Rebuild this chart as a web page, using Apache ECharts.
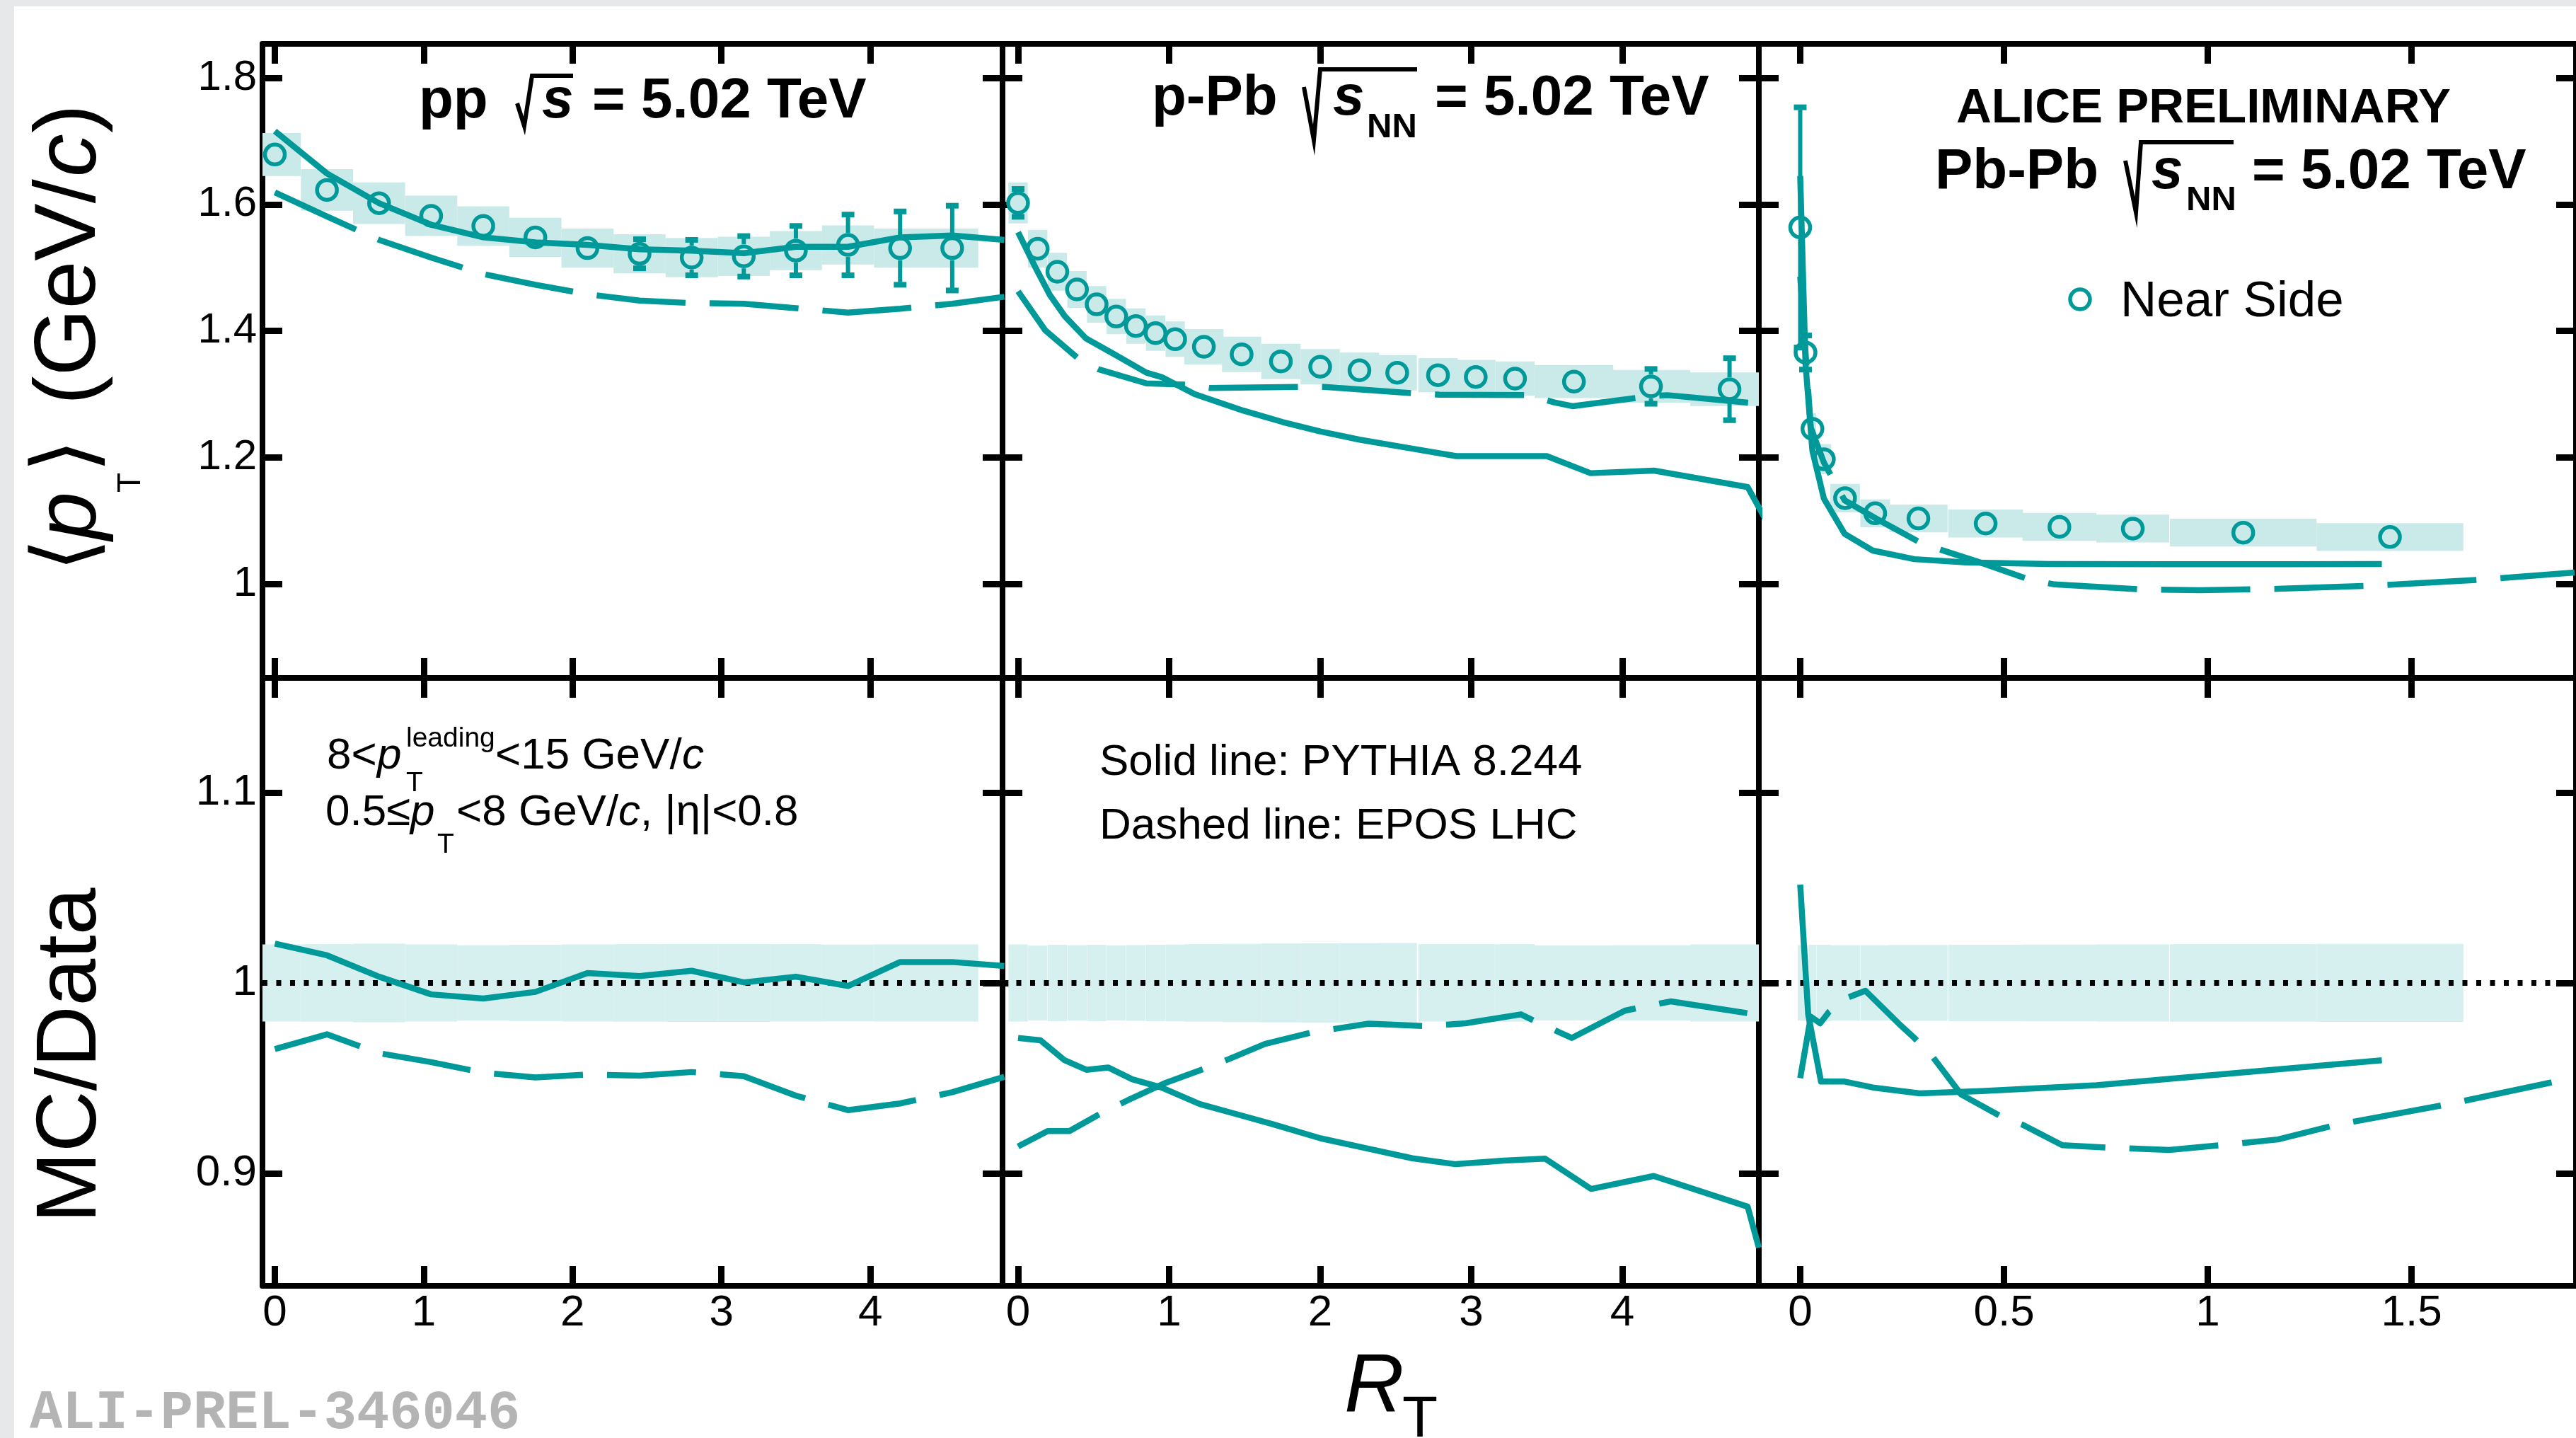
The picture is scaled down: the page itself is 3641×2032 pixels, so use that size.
<!DOCTYPE html>
<html><head><meta charset="utf-8">
<script src="https://cdn.jsdelivr.net/npm/echarts@6/dist/echarts.min.js"></script>
<style>html,body{margin:0;padding:0;background:#fff;}#c{width:3641px;height:2032px;}</style>
</head><body><div id="c"></div>
<script>
// ---------------- DATA ----------------
// pp, sqrt(s)=5.02 TeV
const ppX     = [0, 0.35, 0.7, 1.05, 1.4, 1.75, 2.1, 2.45, 2.8, 3.15, 3.5, 3.85, 4.2, 4.55];
const ppY     = [1.679, 1.623, 1.602, 1.582, 1.566, 1.548, 1.531, 1.522, 1.516, 1.518, 1.527, 1.536, 1.531, 1.531];
const ppStat  = [0.005, 0.005, 0.005, 0.006, 0.006, 0.007, 0.010, 0.023, 0.028, 0.032, 0.039, 0.048, 0.058, 0.067];
const ppSys   = [0.034, 0.033, 0.033, 0.032, 0.031, 0.031, 0.031, 0.031, 0.031, 0.031, 0.031, 0.031, 0.031, 0.031];
const ppHalfW = [0.175, 0.175, 0.175, 0.175, 0.175, 0.175, 0.175, 0.175, 0.175, 0.175, 0.175, 0.175, 0.175, 0.175];
const ppMcX   = [0, 0.35, 0.7, 1.05, 1.4, 1.75, 2.1, 2.45, 2.8, 3.15, 3.5, 3.85, 4.2, 4.55, 4.9];
const ppPythia      = [1.716, 1.649, 1.602, 1.568, 1.548, 1.540, 1.536, 1.529, 1.527, 1.523, 1.533, 1.533, 1.548, 1.551, 1.544];
const ppEpos        = [1.619, 1.581, 1.544, 1.516, 1.490, 1.473, 1.458, 1.448, 1.444, 1.443, 1.436, 1.429, 1.435, 1.443, 1.454];
const ppPythiaRatio = [1.0207, 1.0145, 1.0033, 0.994, 0.9918, 0.9953, 1.0052, 1.0036, 1.0064, 1.0003, 1.0033, 0.9984, 1.011, 1.011, 1.0089];
const ppEposRatio   = [0.9653, 0.973, 0.9631, 0.9584, 0.9528, 0.9504, 0.9519, 0.9513, 0.9532, 0.951, 0.9408, 0.9332, 0.9367, 0.9426, 0.9507];

// p-Pb, sqrt(sNN)=5.02 TeV
const pPbX     = [0, 0.13, 0.26, 0.39, 0.52, 0.65, 0.78, 0.91, 1.04, 1.23, 1.48, 1.74, 2.0, 2.26, 2.51, 2.78, 3.03, 3.29, 3.68, 4.19, 4.71];
const pPbY     = [1.6025, 1.530, 1.4936, 1.4656, 1.442, 1.4227, 1.4077, 1.3965, 1.3869, 1.375, 1.363, 1.3518, 1.3433, 1.3377, 1.3339, 1.330, 1.3272, 1.3246, 1.3198, 1.3123, 1.3078];
const pPbStat  = [0.022, 0.005, 0.005, 0.005, 0.005, 0.005, 0.005, 0.005, 0.005, 0.005, 0.006, 0.006, 0.007, 0.007, 0.008, 0.009, 0.010, 0.011, 0.013, 0.0275, 0.049];
const pPbSys   = [0.0325, 0.030, 0.030, 0.029, 0.029, 0.028, 0.028, 0.028, 0.028, 0.028, 0.028, 0.028, 0.028, 0.028, 0.028, 0.027, 0.027, 0.027, 0.026, 0.026, 0.0265];
const pPbHalfW = [0.064, 0.064, 0.064, 0.064, 0.064, 0.064, 0.064, 0.064, 0.064, 0.13, 0.13, 0.13, 0.13, 0.13, 0.13, 0.13, 0.13, 0.13, 0.26, 0.26, 0.26];
const pPbPythiaX = [0, 0.12, 0.21, 0.31, 0.45, 0.63, 0.85, 0.95, 1.17, 1.49, 1.75, 2.0, 2.26, 2.58, 2.9, 3.5, 3.79, 4.21, 4.83, 4.95];
const pPbPythia  = [1.556, 1.498, 1.457, 1.423, 1.388, 1.364, 1.334, 1.327, 1.300, 1.274, 1.256, 1.241, 1.228, 1.215, 1.202, 1.202, 1.175, 1.179, 1.153, 1.101];
const pPbEposX   = [0, 0.18, 0.39, 0.53, 0.85, 1.11, 1.27, 1.87, 2.03, 2.63, 2.79, 3.38, 3.55, 3.67, 4.18, 4.3, 4.9];
const pPbEpos    = [1.4626, 1.401, 1.358, 1.3395, 1.317, 1.315, 1.3097, 1.3115, 1.3115, 1.301, 1.2992, 1.2984, 1.287, 1.281, 1.2966, 1.2984, 1.285];
const pPbPythiaRatioX = [0, 0.148, 0.308, 0.452, 0.596, 0.756, 0.948, 1.203, 1.427, 1.683, 2.002, 2.322, 2.61, 2.897, 3.217, 3.489, 3.793, 4.208, 4.83, 4.904];
const pPbPythiaRatio  = [0.9711, 0.9699, 0.9594, 0.9544, 0.9556, 0.9494, 0.9451, 0.9364, 0.9315, 0.9259, 0.9184, 0.9129, 0.9079, 0.9048, 0.9067, 0.9077, 0.8918, 0.8986, 0.8825, 0.8609];
const pPbEposRatioX   = [0, 0.196, 0.34, 0.548, 0.724, 0.979, 1.235, 1.395, 1.635, 1.955, 2.322, 2.706, 2.962, 3.329, 3.441, 3.665, 4.016, 4.16, 4.32, 4.88, 4.904];
const pPbEposRatio    = [0.9141, 0.9222, 0.9222, 0.9315, 0.9383, 0.9476, 0.955, 0.96, 0.968, 0.9742, 0.9786, 0.9773, 0.9788, 0.9835, 0.9792, 0.9711, 0.9854, 0.9878, 0.9903, 0.9835, 0.986];

// Pb-Pb, sqrt(sNN)=5.02 TeV
const PbX     = [0, 0.013, 0.030, 0.058, 0.11, 0.184, 0.29, 0.455, 0.636, 0.816, 1.087, 1.447];
const PbY     = [1.5637, 1.3658, 1.2452, 1.1971, 1.1355, 1.1115, 1.1034, 1.0954, 1.0901, 1.0874, 1.0809, 1.074];
const PbStat  = [0.19, 0.027, 0.015, 0.008, 0.005, 0.004, 0.004, 0.004, 0.004, 0.004, 0.004, 0.004];
const PbSys   = [0.031, 0.027, 0.025, 0.024, 0.0225, 0.022, 0.022, 0.022, 0.022, 0.022, 0.022, 0.022];
const PbHalfW = [0.006, 0.007, 0.009, 0.018, 0.0365, 0.0365, 0.0715, 0.0915, 0.0905, 0.0895, 0.18, 0.18];
const PbPythiaX = [0, 0.013, 0.03, 0.058, 0.109, 0.178, 0.28, 0.408, 0.612, 0.9, 1.2, 1.427];
const PbPythia  = [1.645, 1.348, 1.210, 1.135, 1.079, 1.0526, 1.039, 1.0338, 1.0313, 1.031, 1.031, 1.0313];
const PbEposX   = [0, 0.026, 0.058, 0.109, 0.187, 0.292, 0.349, 0.45, 0.561, 0.624, 0.841, 0.98, 1.172, 1.401, 1.682, 1.9];
const PbEpos    = [1.486, 1.247, 1.192, 1.132, 1.103, 1.066, 1.053, 1.032, 1.007, 0.999, 0.991, 0.990, 0.992, 0.997, 1.007, 1.018];
const PbPythiaRatioX = [0, 0.0196, 0.051, 0.109, 0.178, 0.293, 0.446, 0.727, 1.427];
const PbPythiaRatio  = [1.0517, 0.9835, 0.9482, 0.9482, 0.9451, 0.942, 0.9432, 0.9463, 0.9594];
const PbEposRatioX   = [0, 0.026, 0.049, 0.0705, 0.115, 0.16, 0.242, 0.28, 0.325, 0.395, 0.49, 0.548, 0.643, 0.752, 0.905, 1.032, 1.172, 1.312, 1.592, 1.853];
const PbEposRatio    = [0.950, 0.9823, 0.9788, 0.9848, 0.9922, 0.9959, 0.9786, 0.9711, 0.9612, 0.9414, 0.9302, 0.9253, 0.9148, 0.9135, 0.9123, 0.9148, 0.9178, 0.9253, 0.9364, 0.9482];

// tick values
const xTicksWide  = [0, 1, 2, 3, 4];
const xTicksPbPb  = [0, 0.5, 1, 1.5];
const yTicksUpper = [1, 1.2, 1.4, 1.6, 1.8];
const yTicksLower = [0.9, 1, 1.1];

// ---------------- LAYOUT / STYLE ----------------
const FONT = "'Liberation Sans', Arial, Helvetica, sans-serif";
const TEAL = '#009999';
const BOX  = '#c9eae9';
const BAND = '#d6efef';
const LW   = 8.5;

const cols = [
  {x0: 371,  x1: 1417, min: -0.0832, max: 4.888,  ticks: xTicksWide},
  {x0: 1417, x1: 2486, min: -0.103,  max: 4.904,  ticks: xTicksWide},
  {x0: 2486, x1: 3646, min: -0.1015, max: 1.9034, ticks: xTicksPbPb}
];
const rows = [
  {top: 62,  bottom: 958,  min: 0.8511, max: 1.854,  ticks: yTicksUpper, fs: 60},
  {top: 958, bottom: 1817, min: 0.8409, max: 1.1602, ticks: yTicksLower, fs: 62}
];

const grid = [], xAxis = [], yAxis = [];
rows.forEach((r, ri) => cols.forEach((c, ci) => {
  const gi = ri * 3 + ci;
  grid.push({left: c.x0, top: r.top, width: c.x1 - c.x0, height: r.bottom - r.top});
  ['bottom', 'top'].forEach(pos => xAxis.push({
    type: 'value', gridIndex: gi, position: pos, min: c.min, max: c.max,
    axisLine: {show: true, onZero: false, lineStyle: {color: '#000', width: 8}},
    axisTick: {show: true, inside: true, length: 28, lineStyle: {color: '#000', width: 9}, customValues: c.ticks},
    axisLabel: {show: (ri === 1 && pos === 'bottom'), customValues: c.ticks, fontSize: 62, fontFamily: FONT, color: '#000', margin: 8},
    splitLine: {show: false}
  }));
  ['left', 'right'].forEach(pos => yAxis.push({
    type: 'value', gridIndex: gi, position: pos, min: r.min, max: r.max,
    axisLine: {show: true, onZero: false, lineStyle: {color: '#000', width: 8}},
    axisTick: {show: true, inside: true, length: 28, lineStyle: {color: '#000', width: 9}, customValues: r.ticks},
    axisLabel: {show: (ci === 0 && pos === 'left'), customValues: r.ticks, fontSize: r.fs, fontFamily: FONT, color: '#000', margin: 8},
    splitLine: {show: false}
  }));
}));

function boxItem(fill) {
  return function (params, api) {
    const x = api.value(0), y = api.value(1), hw = api.value(2), s = api.value(3);
    const p1 = api.coord([x - hw, y + s]), p2 = api.coord([x + hw, y - s]);
    const rect = echarts.graphic.clipRectByRect(
      {x: p1[0], y: p1[1], width: p2[0] - p1[0], height: p2[1] - p1[1]}, params.coordSys);
    if (!rect) return null;
    return {type: 'rect', shape: rect, style: {fill: fill}};
  };
}
function errItem(params, api) {
  const x = api.value(0), y = api.value(1), e = api.value(2);
  const c = api.coord([x, y]), t = api.coord([x, y + e]), b = api.coord([x, y - e]);
  const r = 17, ch = [];
  if (c[1] - t[1] > r) {
    ch.push({type: 'line', shape: {x1: c[0], y1: t[1], x2: c[0], y2: c[1] - r}, style: {stroke: TEAL, lineWidth: 6}});
    ch.push({type: 'rect', shape: {x: c[0] - 9, y: t[1] - 4, width: 18, height: 8}, style: {fill: TEAL}});
  }
  if (b[1] - c[1] > r) {
    ch.push({type: 'line', shape: {x1: c[0], y1: c[1] + r, x2: c[0], y2: b[1]}, style: {stroke: TEAL, lineWidth: 6}});
    ch.push({type: 'rect', shape: {x: c[0] - 9, y: b[1] - 4, width: 18, height: 8}, style: {fill: TEAL}});
  }
  return {type: 'group', children: ch};
}
const pairs = (xs, ys) => xs.map((x, i) => [x, ys[i]]);
function mcLine(gi, xs, ys, dashed) {
  return {type: 'line', xAxisIndex: 2 * gi, yAxisIndex: 2 * gi, data: pairs(xs, ys), showSymbol: false, symbol: 'none',
    clip: true, silent: true, z: 4, lineStyle: {color: TEAL, width: LW, type: dashed ? [126, 34] : 'solid', join: 'round'}};
}

const series = [];
function upper(gi, X, Y, stat, sys, hw, pyX, py, epX, ep) {
  series.push({type: 'custom', xAxisIndex: 2 * gi, yAxisIndex: 2 * gi, z: 1, silent: true,
    data: X.map((x, i) => [x, Y[i], hw[i], sys[i]]), encode: {x: 0, y: 1}, renderItem: boxItem(BOX)});
  series.push({type: 'custom', xAxisIndex: 2 * gi, yAxisIndex: 2 * gi, z: 3, silent: true,
    data: X.map((x, i) => [x, Y[i], stat[i]]), encode: {x: 0, y: 1}, renderItem: errItem});
  series.push({type: 'scatter', xAxisIndex: 2 * gi, yAxisIndex: 2 * gi, z: 3, silent: true, data: pairs(X, Y),
    symbol: 'circle', symbolSize: 28, itemStyle: {color: 'rgba(0,0,0,0)', borderColor: TEAL, borderWidth: 5.5, opacity: 1}});
  series.push(mcLine(gi, pyX, py, false));
  series.push(mcLine(gi, epX, ep, true));
}
function lower(gi, X, Y, sys, hw, pyX, py, epX, ep) {
  series.push({type: 'custom', xAxisIndex: 2 * gi, yAxisIndex: 2 * gi, z: 1, silent: true,
    data: X.map((x, i) => [x, 1, hw[i], sys[i] / Y[i]]), encode: {x: 0, y: 1},
    renderItem: boxItem(BAND)});
  const s = mcLine(gi, pyX, py, false);
  s.markLine = {silent: true, symbol: 'none', label: {show: false}, z: 2,
    lineStyle: {color: '#000', width: 8, type: [7, 12.5]}, data: [{yAxis: 1}]};
  series.push(s);
  series.push(mcLine(gi, epX, ep, true));
}
upper(0, ppX, ppY, ppStat, ppSys, ppHalfW, ppMcX, ppPythia, ppMcX, ppEpos);
upper(1, pPbX, pPbY, pPbStat, pPbSys, pPbHalfW, pPbPythiaX, pPbPythia, pPbEposX, pPbEpos);
upper(2, PbX, PbY, PbStat, PbSys, PbHalfW, PbPythiaX, PbPythia, PbEposX, PbEpos);
lower(3, ppX, ppY, ppSys, ppHalfW, ppMcX, ppPythiaRatio, ppMcX, ppEposRatio);
lower(4, pPbX, pPbY, pPbSys, pPbHalfW, pPbPythiaRatioX, pPbPythiaRatio, pPbEposRatioX, pPbEposRatio);
lower(5, PbX, PbY, PbSys, PbHalfW, PbPythiaRatioX, PbPythiaRatio, PbEposRatioX, PbEposRatio);

// ---------------- TEXT ----------------
function T(x, base, text, size, o) {
  o = o || {};
  const k = o.k != null ? o.k : 0.3465;
  return {type: 'text', x: x, y: base - k * size, z: 100, silent: true,
    style: {text: text, fill: o.color || '#000', fontSize: size, fontFamily: o.family || FONT,
      fontWeight: o.bold ? 'bold' : 'normal', fontStyle: o.italic ? 'italic' : 'normal',
      align: 'left', verticalAlign: 'middle'}};
}
function RAD(pts) {
  return {type: 'polyline', z: 100, silent: true, shape: {points: pts},
    style: {stroke: '#000', lineWidth: 6, fill: 'none', lineJoin: 'miter'}};
}
const B = {bold: true}, BI = {bold: true, italic: true}, I = {italic: true};
const graphics = [
  {type: 'rect', z: 0, silent: true, shape: {x: 0, y: 0, width: 20, height: 2032}, style: {fill: '#e6e8ea'}},
  {type: 'rect', z: 0, silent: true, shape: {x: 0, y: 0, width: 3641, height: 9}, style: {fill: '#e6e8ea'}},
  // pp title
  T(592, 172, 'pp', 80, B), RAD([[731, 146], [741, 178], [752, 107], [810, 107]]),
  T(766, 172, 's', 80, BI), T(837, 172, '= 5.02 TeV', 80, B),
  // p-Pb title
  T(1628, 168, 'p-Pb', 80, B), RAD([[1843, 123], [1857, 198], [1866, 98], [2003, 98]]),
  T(1884, 168, 's', 80, BI), T(1932, 197, 'NN', 49, B), T(2028, 168, '= 5.02 TeV', 80, B),
  // Pb-Pb title
  T(2765, 178, 'ALICE PRELIMINARY', 69, B),
  T(2735, 272, 'Pb-Pb', 80, B), RAD([[3004, 227], [3019, 300], [3026, 201], [3157, 201]]),
  T(3041, 272, 's', 80, BI), T(3090, 300, 'NN', 49, B), T(3183, 272, '= 5.02 TeV', 80, B),
  // legend
  {type: 'circle', z: 100, silent: true, shape: {cx: 2940, cy: 423, r: 14}, style: {stroke: TEAL, lineWidth: 5.5, fill: 'none'}},
  T(2997, 452, 'Near Side', 71),
  // lower panel 1 annotation
  T(462, 1090, '8<', 62), T(533, 1090, 'p', 62, I), T(574, 1058, 'leading', 39), T(574, 1121, 'T', 39),
  T(700, 1090, '<15 GeV/', 62), T(964, 1090, 'c', 62, I),
  T(460, 1170, '0.5\u2264', 62), T(580, 1170, 'p', 62, I), T(618, 1208, 'T', 39),
  T(645, 1170, '<8 GeV/', 62), T(874, 1170, 'c', 62, I), T(905, 1170, ', |\u03b7|<0.8', 62),
  // lower panel 2 annotation
  T(1554, 1099, 'Solid line: PYTHIA 8.244', 62),
  T(1554, 1189, 'Dashed line: EPOS LHC', 62),
  // y titles (rotated)
  {type: 'group', x: 143, y: 808, rotation: Math.PI / 2, z: 100, children: [
    T(0, 0, '\u27e8', 122, {family: "'DejaVu Sans', sans-serif"}),
    T(45, 0, 'p', 122, I), T(112, 58, 'T', 46),
    T(140, 0, '\u27e9', 122, {family: "'DejaVu Sans', sans-serif"}),
    T(236, 0, '(GeV/', 122), T(558, 0, 'c', 122, I), T(620, 0, ')', 122)
  ]},
  {type: 'group', x: 143, y: 1728, rotation: Math.PI / 2, z: 100, children: [T(0, 0, 'MC/Data', 120)]},
  // x title
  T(1900, 2002, 'R', 117, I), T(1982, 2036, 'T', 82),
  // watermark
  T(42, 2019, 'ALI-PREL-346046', 77, {bold: true, family: "'Liberation Mono', 'DejaVu Sans Mono', monospace", color: '#b4b4b4', k: 0.27})
];

const chart = echarts.init(document.getElementById('c'), null, {renderer: 'canvas', width: 3641, height: 2032});
chart.setOption({
  animation: false, backgroundColor: '#ffffff',
  textStyle: {fontFamily: FONT},
  grid: grid, xAxis: xAxis, yAxis: yAxis, series: series, graphic: graphics
});
</script></body></html>
